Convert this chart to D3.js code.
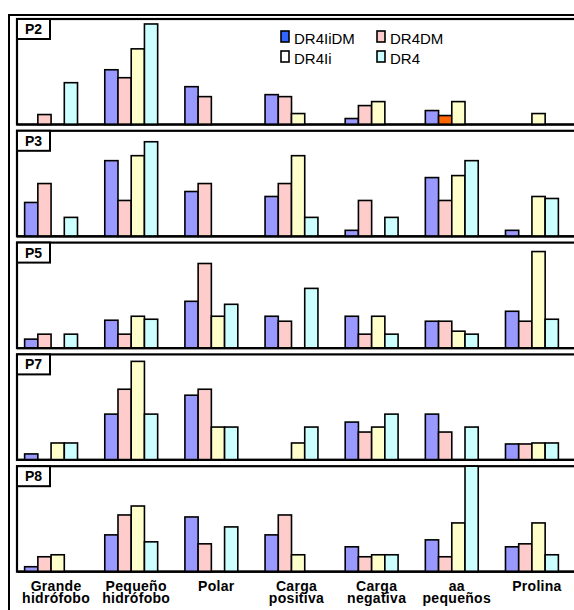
<!DOCTYPE html>
<html>
<head>
<meta charset="utf-8">
<script src="https://cdn.jsdelivr.net/npm/d3@7"></script>
<style>
  html, body { margin: 0; padding: 0; background: #fff; }
  svg { display: block; }
</style>
</head>
<body>
<div id="chart"></div>
<script>
// Amino-acid class profiles of the peptide pools, one panel per position
const categories = ["Grande\nhidrófobo", "Pequeño\nhidrófobo", "Polar", "Carga\npositiva", "Carga\nnegativa", "aa\npequeños", "Prolina"];
const seriesNames = ["DR4IiDM", "DR4DM", "DR4Ii", "DR4"];
const panelNames = ["P2", "P3", "P5", "P7", "P8"];

// values per panel, one array per series (same order as seriesNames)
const P2 = [
  [0, 55, 38, 30, 6, 14, 0],
  [10, 47, 28, 28, 19, 9, 0],
  [0, 76, 0, 11, 23, 23, 11],
  [42, 101, 0, 0, 0, 0, 0]
];
const P3 = [
  [34, 76, 45, 40, 6, 59, 6],
  [53, 36, 53, 53, 36, 36, 0],
  [0, 81, 0, 81, 0, 61, 40],
  [19, 95, 0, 19, 19, 76, 38]
];
const P5 = [
  [9, 28, 47, 32, 32, 27, 37],
  [14, 14, 85, 27, 14, 27, 27],
  [0, 32, 32, 0, 32, 17, 97],
  [14, 29, 44, 60, 14, 14, 29]
];
const P7 = [
  [6, 46, 65, 0, 38, 46, 16],
  [0, 71, 71, 0, 28, 28, 16],
  [17, 99, 33, 17, 33, 0, 17],
  [17, 46, 33, 33, 46, 33, 17]
];
const P8 = [
  [5, 37, 55, 37, 25, 32, 25],
  [15, 57, 28, 57, 15, 15, 28],
  [17, 66, 0, 17, 17, 49, 49],
  [0, 30, 45, 0, 17, 106, 17]
];
const panelValues = [P2, P3, P5, P7, P8];

// a single bar shown in a distinct colour
const highlighted = [{ panel: "P2", series: "DR4DM", category: "aa\npequeños", color: "#ff6600" }];

const barColors = ["#9999ff", "#ffcccc", "#ffffcc", "#ccffff"];
const legendColors = ["#3366ff", "#ffcccc", "#ffffff", "#ccffff"];
const yMax = 106;

const W = 574, H = 610;
const svg = d3.select("#chart").append("svg")
  .attr("width", W).attr("height", H)
  .attr("font-family", "'Liberation Sans', Arial, sans-serif");

svg.append("rect").attr("width", W).attr("height", H).attr("fill", "#fff");

// outer frame
svg.append("rect")
  .attr("x", 9).attr("y", 15).attr("width", 640).attr("height", 700)
  .attr("fill", "none").attr("stroke", "#000").attr("stroke-width", 2);

const panelLeft = 17;
const panelTop0 = 19;
const panelPitch = 111.8;
const panelH = 105.5;

const x0 = d3.scaleBand().domain(categories).range([11, 572])
  .paddingInner(0.34).paddingOuter(0.17);
const x1 = d3.scaleBand().domain(seriesNames).range([0, x0.bandwidth()]);
const y = d3.scaleLinear().domain([0, yMax]).range([panelH, 0]);

panelNames.forEach((name, pi) => {
  const g = svg.append("g").attr("transform", `translate(0,${panelTop0 + pi * panelPitch})`);

  g.append("rect")
    .attr("x", panelLeft).attr("y", 0)
    .attr("width", 640).attr("height", panelH)
    .attr("fill", "#fff").attr("stroke", "#000").attr("stroke-width", 2.2);

  const rows = [];
  panelValues[pi].forEach((vals, si) => {
    vals.forEach((v, ci) => {
      if (v > 0) rows.push({ series: seriesNames[si], si, category: categories[ci], value: v });
    });
  });

  g.selectAll("rect.bar").data(rows).join("rect")
    .attr("class", "bar")
    .attr("x", d => x0(d.category) + x1(d.series))
    .attr("y", d => y(d.value))
    .attr("width", x1.bandwidth())
    .attr("height", d => panelH - y(d.value))
    .attr("fill", d => {
      const h = highlighted.find(k => k.panel === name && k.series === d.series && k.category === d.category);
      return h ? h.color : barColors[d.si];
    })
    .attr("stroke", "#000").attr("stroke-width", 1.6);

  // baseline redrawn on top of the bars
  g.append("line")
    .attr("x1", panelLeft).attr("x2", W)
    .attr("y1", panelH).attr("y2", panelH)
    .attr("stroke", "#000").attr("stroke-width", 2.2);

  // panel tag
  g.append("rect")
    .attr("x", panelLeft).attr("y", 0).attr("width", 33).attr("height", 20)
    .attr("fill", "#fff").attr("stroke", "#000").attr("stroke-width", 2);
  g.append("text")
    .attr("x", panelLeft + 16.5).attr("y", 15)
    .attr("text-anchor", "middle")
    .attr("font-weight", "bold").attr("font-size", 14)
    .text(name);
});

// legend
const legend = svg.append("g").attr("transform", "translate(281,31)");
seriesNames.forEach((s, i) => {
  const lg = legend.append("g")
    .attr("transform", `translate(${(i % 2) * 96},${Math.floor(i / 2) * 20})`);
  lg.append("rect")
    .attr("x", 0).attr("y", 0).attr("width", 8).attr("height", 11)
    .attr("fill", legendColors[i]).attr("stroke", "#000").attr("stroke-width", 1.6);
  lg.append("text")
    .attr("x", 13).attr("y", 12.5)
    .attr("font-size", 15)
    .text(s);
});

// category labels under the last panel
const labelG = svg.append("g");
categories.forEach(c => {
  const lines = c.split("\n");
  const cx = x0(c) + x0.bandwidth() / 2 + 5;
  const t = labelG.append("text")
    .attr("x", cx)
    .attr("y", 590.5)
    .attr("text-anchor", "middle")
    .attr("font-weight", "bold").attr("font-size", 14)
    .attr("letter-spacing", 0.3);
  lines.forEach((ln, i) => {
    t.append("tspan")
      .attr("x", cx)
      .attr("dy", i === 0 ? 0 : 12.5)
      .text(ln);
  });
});
</script>
</body>
</html>
